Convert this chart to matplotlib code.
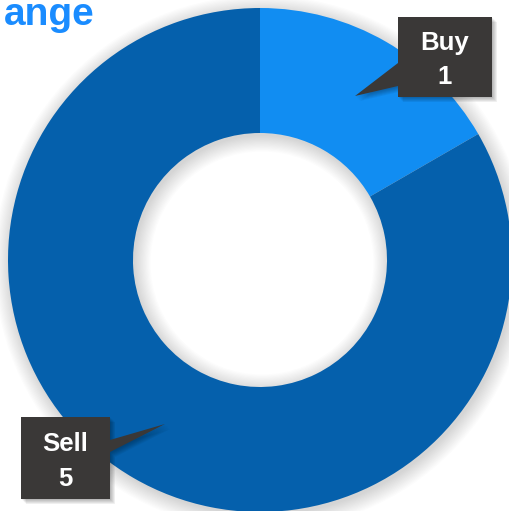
import matplotlib.pyplot as plt
from matplotlib.patches import Wedge, Polygon

plt.rcParams["font.family"] = ["Liberation Sans", "DejaVu Sans"]

# data
labels = ["Buy", "Sell"]
values = [1, 5]
colors = ["#118DF2", "#0560AC"]
title = "ange"

W, H = 509, 511
fig = plt.figure(figsize=(W / 100, H / 100), dpi=100)
ax = fig.add_axes([0, 0, 1, 1])
ax.set_axis_off()


def fy(py):
    # pixel row -> data y
    return H - py


cx, cy = 260, fy(260)
R_out, R_in = 252, 127

# soft shadow around the ring
for k in range(14):
    d = 1.2 * k
    ax.add_patch(Wedge((cx + 2, cy - 3), R_out + d, 0, 360,
                       width=(R_out - R_in) + 2 * d,
                       facecolor="#000000", edgecolor="none", alpha=0.012))

ax.pie(values, colors=colors, startangle=90, counterclock=False,
       center=(cx, cy), radius=R_out,
       wedgeprops=dict(width=R_out - R_in, edgecolor="none"))

ax.set_xlim(0, W)
ax.set_ylim(0, H)
ax.set_aspect("auto")

# callout boxes: (box x0, y0, x1, y1, pointer points)
callouts = [
    dict(box=(398, 17, 492, 97), ptr=[(398, 63), (355, 96), (398, 86)], side="left"),
    dict(box=(21, 417, 110, 499), ptr=[(110, 440), (165, 424), (110, 452)], side="right"),
]


def callout_poly(c):
    x0, y0, x1, y1 = c["box"]
    p = c["ptr"]
    if c["side"] == "left":
        pts = [(x0, y0), (x1, y0), (x1, y1), (x0, y1), p[2], p[1], p[0]]
    else:
        pts = [(x0, y0), (x1, y0), p[0], p[1], p[2], (x1, y1), (x0, y1)]
    return [(x, fy(y)) for x, y in pts]


for lab, val, c in zip(labels, values, callouts):
    pts = callout_poly(c)
    for k in range(6):
        off = 1 + k * 0.8
        ax.add_patch(Polygon([(x + off, y - off) for x, y in pts], closed=True,
                             facecolor="#000000", edgecolor="none", alpha=0.05))
    ax.add_patch(Polygon(pts, closed=True, facecolor="#3a3837", edgecolor="none"))
    x0, y0, x1, y1 = c["box"]
    xm = (x0 + x1) / 2
    ax.text(xm, fy(y0 + (y1 - y0) * 0.33), lab, color="white", fontsize=18.5,
            fontweight="bold", ha="center", va="center")
    ax.text(xm, fy(y0 + (y1 - y0) * 0.75), str(val), color="white", fontsize=18.5,
            fontweight="bold", ha="center", va="center")

ax.text(95, fy(25), title, color="#1a8cff", fontsize=28, fontweight="bold",
        ha="right", va="baseline")

fig.savefig("out.png", dpi=100)
